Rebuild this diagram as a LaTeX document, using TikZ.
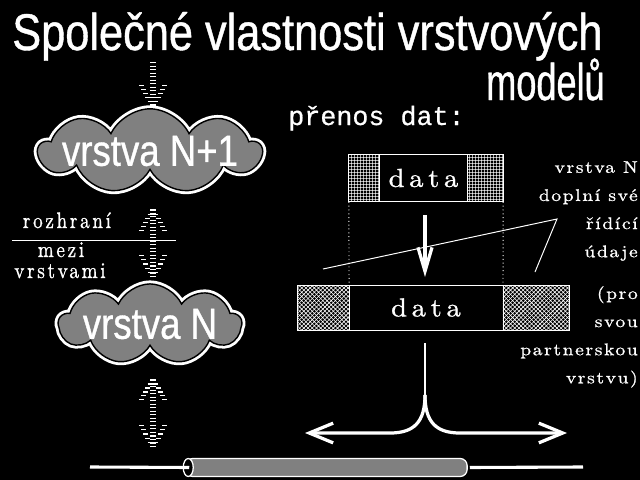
\documentclass[tikz,border=0pt]{standalone}
\usepackage{fontspec}
\newfontfamily\headfont[FakeStretch=0.84, FakeBold=0.8]{Liberation Sans}
\newfontfamily\headnarrow[FakeStretch=0.70, FakeBold=0.8]{Liberation Sans}
\newfontfamily\monofont[FakeBold=0.6]{Liberation Mono}
\newfontfamily\notefont[FakeStretch=1.15, FakeBold=1, LetterSpace=10]{lmroman10-regular.otf}
\newfontfamily\sidefont[FakeStretch=0.85, FakeBold=1, LetterSpace=12]{lmroman10-regular.otf}
\newfontfamily\datafont[FakeStretch=1.1, FakeBold=1, LetterSpace=18]{lmroman10-regular.otf}
\usetikzlibrary{arrows.meta, positioning, calc, patterns, patterns.meta, shapes.symbols}
\definecolor{screenbg}{HTML}{000000}
\definecolor{ink}{HTML}{FFFFFF}
\definecolor{dither}{HTML}{808080}

\tikzdeclarepattern{
  name=finegrid, type=uncolored,
  bottom left={(0pt,0pt)}, top right={(2.4pt,2.4pt)}, tile size={(2.4pt,2.4pt)},
  code={\draw[line width=0.5pt] (0pt,1.2pt) -- (2.4pt,1.2pt) (1.2pt,0pt) -- (1.2pt,2.4pt);}
}

\tikzset{
  headline/.style={font=\headfont\fontsize{36.7}{40}\selectfont, text=ink, inner sep=0pt},
  layercloud/.style={cloud, cloud puffs=9, cloud puff arc=130, cloud ignores aspect,
                     fill=dither, draw=screenbg, line width=1pt,
                     preaction={draw=ink, line width=5pt}, inner sep=-4.5pt,
                     font=\headfont\fontsize{31}{31}\selectfont, text=ink},
  monotext/.style={font=\monofont\fontsize{19}{22}\selectfont, text=ink, inner sep=0pt},
  serifnote/.style={font=\notefont\fontsize{12}{20}\selectfont,
                    text=ink, align=right, inner sep=0pt},
  serifside/.style={font=\sidefont\fontsize{16}{16}\selectfont, text=ink, inner sep=0pt},
  databox/.style={draw=ink, line width=0.7pt, fill=screenbg, inner sep=0pt, outer sep=0pt,
                  font=\datafont\fontsize{18.5}{20}\selectfont, text=ink},
  gridbox/.style={draw=ink, line width=0.7pt, pattern=finegrid, pattern color=ink,
                  inner sep=0pt, outer sep=0pt},
  crossbox/.style={draw=ink, line width=0.7pt, pattern=crosshatch, pattern color=ink,
                   inner sep=0pt, outer sep=0pt},
  cable/.style={rectangle, rounded corners=5pt, draw=ink, line width=0.9pt, fill=dither,
                minimum width=200pt, minimum height=12.8pt, inner sep=0pt},
  capend/.style={draw=ink, line width=0.9pt, fill=screenbg},
  dashshaft/.style={ink, line width=4.3pt, dash pattern=on 0.9pt off 1.6pt},
  dashbit/.style={ink, line width=0.9pt},
  thinline/.style={ink, line width=0.7pt},
  dotline/.style={ink, line width=0.7pt, dotted},
  bigarr/.style={ink, line width=2.3pt, -{Straight Barb[length=17pt, width=14pt]}},
  wire/.style={ink, line width=2.2pt},
}

\begin{document}
\begin{tikzpicture}[x=0.025cm, y=-0.025cm]
  \useasboundingbox (0,0) rectangle (640,480);
  \fill[screenbg] (0,0) rectangle (640,480);

  %% Title
  \node[headline, anchor=base west] (title) at (12,50) {Společné vlastnosti vrstvových};
  \node[headline, anchor=base east] (title2) at (605,100) {\headnarrow modelů};

  %% Layers (left column)
  \node[layercloud, minimum width=156pt, minimum height=60pt] (upper) at (150,151) {vrstva N+1};
  \node[layercloud, minimum width=130pt, minimum height=57pt] (lower) at (150,324) {vrstva N};

  %% Dashed arrows: into N+1, between the layers, below N
  \coordinate (inTail) at (153,62);
  \coordinate (inTip)  at (153,107);
  \coordinate (midTop) at (153,209);
  \coordinate (midBot) at (153,278);
  \coordinate (lowTop) at (153,379);
  \coordinate (lowBot) at (153,448);
  \draw[dashshaft] (inTail) -- (inTip);
  \draw[dashshaft] (midTop) -- (midBot);
  \draw[dashshaft] (lowTop) -- (lowBot);
  \foreach \tip/\sg in {inTip/-24, midTop/24, midBot/-25, lowTop/23, lowBot/-25}
    \foreach \dx in {-13,13}
      \foreach \t in {0.05,0.22,...,1}
        \draw[dashbit] ($(\tip)+\t*(\dx,\sg)$) ++(-2.5,0) -- ++(5,0);

  %% Interface label
  \coordinate (sepL) at (12,240);
  \coordinate (sepR) at (176,240);
  \draw[thinline] (sepL) -- (sepR);
  \node[serifside, anchor=base] (iface) at (67,228) {rozhraní};
  \node[serifside, anchor=base] (mezi) at (61,257) {mezi};
  \node[serifside, anchor=base] (vrstvami) at (60,278) {vrstvami};

  %% Data transfer (right column)
  \node[monotext, anchor=base west] (transfer) at (288,125) {přenos dat:};

  \node[databox, minimum width=62pt, minimum height=34pt] (dataTop) at (423.5,178) {data};
  \node[gridbox, minimum width=22pt, minimum height=34pt, left=0pt of dataTop] (hdrTop) {};
  \node[gridbox, minimum width=25.6pt, minimum height=34pt, right=0pt of dataTop] (trlTop) {};

  \node[databox, minimum width=109.5pt, minimum height=32pt] (dataBot) at (426,307.5) {data};
  \node[crossbox, minimum width=36.3pt, minimum height=32pt, left=0pt of dataBot] (hdrBot) {};
  \node[crossbox, minimum width=47pt, minimum height=32pt, right=0pt of dataBot] (trlBot) {};

  \draw[dotline] (hdrTop.south west) -- (hdrBot.north east);
  \draw[dotline] (trlTop.south east) -- (trlBot.north west);

  \coordinate (pushFrom) at (425,215);
  \coordinate (pushTo)   at (425,277);
  \draw[bigarr, -{Straight Barb[length=17pt, width=10pt]}] (pushFrom) -- (pushTo);

  %% Pointer to the added control data
  \coordinate (cueL)   at (323,269);
  \coordinate (cueTip) at (557,219);
  \coordinate (cueR)   at (535,272);
  \draw[thinline] (cueL) -- (cueTip) -- (cueR);

  \node[serifnote, anchor=north east] (addnote) at (638,161) {vrstva N\\doplní své\\řídící\\údaje};
  \node[serifnote, anchor=north east] (partner) at (638,286) {(pro\\svou\\partnerskou\\vrstvu)};

  %% Fork to both sides
  \coordinate (fork)     at (425,343);
  \coordinate (split)    at (425,395);
  \coordinate (leftEnd)  at (305,433);
  \coordinate (rightEnd) at (567,433);
  \draw[ink, line width=2pt] (fork) -- (split);
  \draw[bigarr] (split) .. controls (425,422) and (414,433) .. (390,433) -- (leftEnd);
  \draw[bigarr] (split) .. controls (425,422) and (436,433) .. (460,433) -- (rightEnd);

  %% Medium
  \node[cable] (cable) at (326.5,467.5) {};
  \draw[capend] ($(cable.west)+(3,0)$) ellipse [x radius=5, y radius=9];
  \coordinate (wireL) at (90,467);
  \coordinate (wireR) at (583,467);
  \draw[wire] (wireL) -- ($(cable.west)+(4,0)$);
  \draw[wire] ($(cable.east)+(2,0)$) -- (wireR);
\end{tikzpicture}
\end{document}
